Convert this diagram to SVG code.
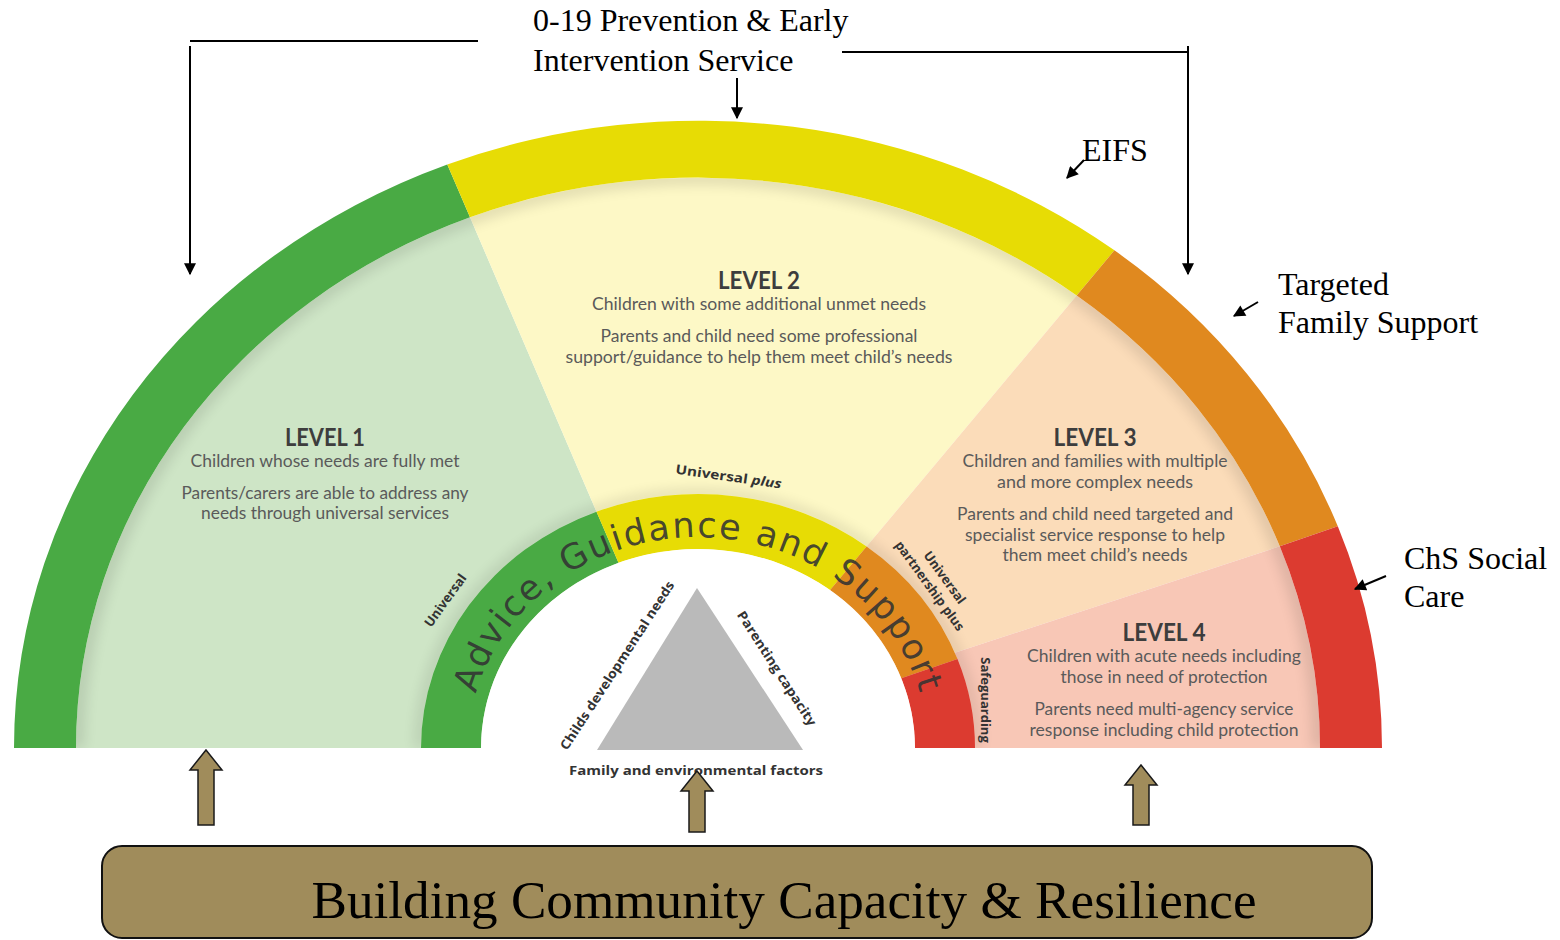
<svg xmlns="http://www.w3.org/2000/svg" width="1560" height="940" viewBox="0 0 1560 940">
<defs>
<style>
.lvh{font-family:Lato,"Open Sans",sans-serif;font-weight:700;font-size:24px;fill:#3d3d3d;text-anchor:middle}
.lvb{font-family:Lato,"Open Sans",sans-serif;font-size:17px;fill:#5a5a5a;text-anchor:middle}
.ann{font-family:"Liberation Serif",serif;font-size:32px;fill:#000}
.lab{font-family:"Open Sans",sans-serif;font-weight:700;font-size:13px;fill:#333;text-anchor:middle}
.ln{stroke:#000;stroke-width:2;fill:none}
.blk{fill:#a08c5b;stroke:#1a1a1a;stroke-width:1.5}
</style>
<marker id="ah" viewBox="0 0 10 10" refX="9" refY="5" markerWidth="13" markerHeight="12" markerUnits="userSpaceOnUse" orient="auto">
<path d="M0,0 L10,5 L0,10 z" fill="#000"/>
</marker>
<filter id="soft" x="-10%" y="-10%" width="120%" height="120%">
<feGaussianBlur stdDeviation="7"/>
</filter>
<clipPath id="lightClip">
<path d="M-622 0 A622 622 0 0 1 622 0 L277 0 A277 277 0 0 0 -277 0 Z"/>
</clipPath>
<path id="agsPath" d="M468 748 A230 210.9 0 0 1 928 748"/>
</defs>
<rect width="1560" height="940" fill="#fff"/>

<g id="semicircle" transform="translate(698,748) scale(1,0.917)">
<g id="light-sectors">
<path d="M0 0 L-622 0 A622 622 0 0 1 -228.0 -578.7 Z" fill="#cee5c6"/>
<path d="M0 0 L-228.0 -578.7 A622 622 0 0 1 378.7 -493.5 Z" fill="#fdf8c6"/>
<path d="M0 0 L378.7 -493.5 A622 622 0 0 1 581.8 -219.9 L256.8 -103.8 Z" fill="#fbdcb9"/>
<path d="M0 0 L256.8 -103.8 L581.8 -219.9 A622 622 0 0 1 622 0 Z" fill="#f8c7b6"/>
<g clip-path="url(#lightClip)" opacity="0.12">
<path d="M-622 0 A622 622 0 0 1 622 0" fill="none" stroke="#000" stroke-width="14" filter="url(#soft)"/>
<path d="M-277 0 A277 277 0 0 1 277 0" fill="none" stroke="#000" stroke-width="10" filter="url(#soft)"/>
</g>
</g>
<g id="outer-band">
<path d="M-684 0 A684 684 0 0 1 -250.7 -636.4 L-228.0 -578.7 A622 622 0 0 0 -622 0 Z" fill="#49aa44"/>
<path d="M-250.7 -636.4 A684 684 0 0 1 416.4 -542.7 L378.7 -493.5 A622 622 0 0 0 -228.0 -578.7 Z" fill="#e7dc05"/>
<path d="M416.4 -542.7 A684 684 0 0 1 639.8 -241.8 L581.8 -219.9 A622 622 0 0 0 378.7 -493.5 Z" fill="#e0891f"/>
<path d="M639.8 -241.8 A684 684 0 0 1 684 0 L622 0 A622 622 0 0 0 581.8 -219.9 Z" fill="#dc3b30"/>
</g>
<g id="inner-ring">
<path d="M-277 0 A277 277 0 0 1 -101.5 -257.7 L-79.5 -201.9 A217 217 0 0 0 -217 0 Z" fill="#49aa44"/>
<path d="M-101.5 -257.7 A277 277 0 0 1 168.6 -219.8 L132.1 -172.2 A217 217 0 0 0 -79.5 -201.9 Z" fill="#e7dc05"/>
<path d="M168.6 -219.8 A277 277 0 0 1 259.5 -97.0 L203.3 -76.0 A217 217 0 0 0 132.1 -172.2 Z" fill="#e0891f"/>
<path d="M259.5 -97.0 A277 277 0 0 1 277 0 L217 0 A217 217 0 0 0 203.3 -76.0 Z" fill="#dc3b30"/>
<path d="M-217 0 A217 217 0 0 1 217 0 Z" fill="#fff"/>
</g>
</g>

<g id="ring-text">
<text font-family="'DejaVu Sans',sans-serif" font-size="35" fill="#333" fill-opacity="0.9"><textPath href="#agsPath" startOffset="55" textLength="582" lengthAdjust="spacing">Advice, Guidance and Support</textPath></text>
</g>

<g id="triangle">
<polygon points="697,588 597,750 803,750" fill="#bababa"/>
<text class="lab" font-size="15" transform="translate(621,668) rotate(-57)" textLength="198" lengthAdjust="spacingAndGlyphs">Childs developmental needs</text>
<text class="lab" font-size="15" transform="translate(773,671) rotate(57)" textLength="134" lengthAdjust="spacingAndGlyphs">Parenting capacity</text>
<text class="lab" font-size="14" x="696" y="775" textLength="254" lengthAdjust="spacingAndGlyphs">Family and environmental factors</text>
</g>

<g id="ring-labels">
<text class="lab" transform="translate(449,603) rotate(-54)">Universal</text>
<text class="lab" font-size="15" transform="translate(728,481) rotate(8)" textLength="107" lengthAdjust="spacingAndGlyphs">Universal <tspan font-style="italic">plus</tspan></text>
<g transform="translate(935,582) rotate(54)">
<text class="lab" font-size="14" x="2" y="-6">Universal</text>
<text class="lab" font-size="14" x="0" y="11">partnership plus</text>
</g>
<text class="lab" font-size="14" transform="translate(981,700) rotate(90)">Safeguarding</text>
</g>

<g id="level1">
<text class="lvh" x="325" y="446" textLength="80" lengthAdjust="spacingAndGlyphs">LEVEL 1</text>
<text class="lvb" x="325" y="467" textLength="269" lengthAdjust="spacingAndGlyphs">Children whose needs are fully met</text>
<text class="lvb" x="325" y="499" textLength="287" lengthAdjust="spacingAndGlyphs">Parents/carers are able to address any</text>
<text class="lvb" x="325" y="519" textLength="248" lengthAdjust="spacingAndGlyphs">needs through universal services</text>
</g>
<g id="level2">
<text class="lvh" x="759" y="289" textLength="82" lengthAdjust="spacingAndGlyphs">LEVEL 2</text>
<text class="lvb" x="759" y="310" textLength="334" lengthAdjust="spacingAndGlyphs">Children with some additional unmet needs</text>
<text class="lvb" x="759" y="342" textLength="317" lengthAdjust="spacingAndGlyphs">Parents and child need some professional</text>
<text class="lvb" x="759" y="363" textLength="387" lengthAdjust="spacingAndGlyphs">support/guidance to help them meet child’s needs</text>
</g>
<g id="level3">
<text class="lvh" x="1095" y="446" textLength="83" lengthAdjust="spacingAndGlyphs">LEVEL 3</text>
<text class="lvb" x="1095" y="467" textLength="265" lengthAdjust="spacingAndGlyphs">Children and families with multiple</text>
<text class="lvb" x="1095" y="488" textLength="196" lengthAdjust="spacingAndGlyphs">and more complex needs</text>
<text class="lvb" x="1095" y="520" textLength="276" lengthAdjust="spacingAndGlyphs">Parents and child need targeted and</text>
<text class="lvb" x="1095" y="541" textLength="260" lengthAdjust="spacingAndGlyphs">specialist service response to help</text>
<text class="lvb" x="1095" y="561" textLength="185" lengthAdjust="spacingAndGlyphs">them meet child’s needs</text>
</g>
<g id="level4">
<text class="lvh" x="1164" y="641" textLength="83" lengthAdjust="spacingAndGlyphs">LEVEL 4</text>
<text class="lvb" x="1164" y="662" textLength="274" lengthAdjust="spacingAndGlyphs">Children with acute needs including</text>
<text class="lvb" x="1164" y="683" textLength="207" lengthAdjust="spacingAndGlyphs">those in need of protection</text>
<text class="lvb" x="1164" y="715" textLength="259" lengthAdjust="spacingAndGlyphs">Parents need multi-agency service</text>
<text class="lvb" x="1164" y="736" textLength="269" lengthAdjust="spacingAndGlyphs">response including child protection</text>
</g>

<g id="annotations">
<text class="ann" x="533" y="31">0-19 Prevention &amp; Early</text>
<text class="ann" x="533" y="71">Intervention Service</text>
<text class="ann" x="1082" y="161">EIFS</text>
<text class="ann" x="1278" y="295">Targeted</text>
<text class="ann" x="1278" y="333">Family Support</text>
<text class="ann" x="1404" y="569">ChS Social</text>
<text class="ann" x="1404" y="607">Care</text>
</g>

<g id="connectors">
<line class="ln" x1="190" y1="41" x2="478" y2="41"/>
<line class="ln" x1="190" y1="46" x2="190" y2="274" marker-end="url(#ah)"/>
<line class="ln" x1="842" y1="52" x2="1188" y2="52"/>
<line class="ln" x1="1188" y1="46" x2="1188" y2="274" marker-end="url(#ah)"/>
<line class="ln" x1="737" y1="78" x2="737" y2="118" marker-end="url(#ah)"/>
<line class="ln" x1="1084" y1="160" x2="1067" y2="178" marker-end="url(#ah)"/>
<line class="ln" x1="1258" y1="302" x2="1234" y2="316" marker-end="url(#ah)"/>
<line class="ln" x1="1386" y1="576" x2="1355" y2="589" marker-end="url(#ah)"/>
<polygon class="blk" points="206,750 222,770 214,770 214,825 198,825 198,770 190,770"/>
<polygon class="blk" points="697,771 713,791 705,791 705,832 689,832 689,791 681,791"/>
<polygon class="blk" points="1141,765 1157,785 1149,785 1149,825 1133,825 1133,785 1125,785"/>
</g>

<g id="capacity-box">
<rect x="102" y="846" width="1270" height="92" rx="20" ry="20" fill="#a08c5b" stroke="#111" stroke-width="2"/>
<text x="784" y="918" font-family="'Liberation Serif',serif" font-size="53" fill="#000" text-anchor="middle" textLength="945" lengthAdjust="spacingAndGlyphs">Building Community Capacity &amp; Resilience</text>
</g>
</svg>
